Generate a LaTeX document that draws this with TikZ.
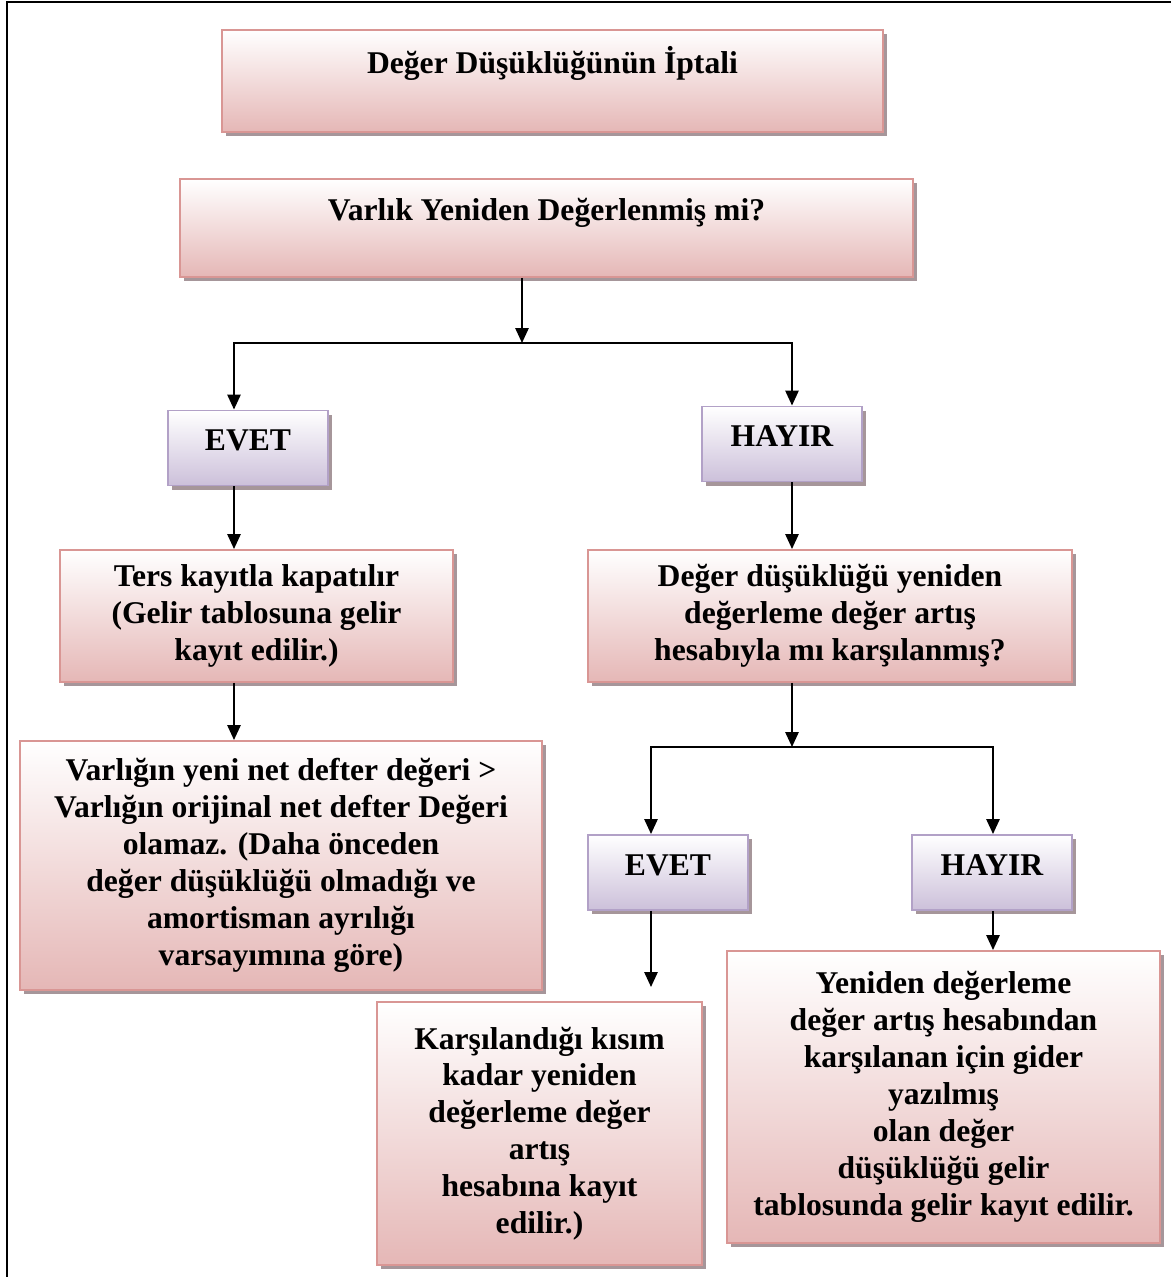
\documentclass[tikz,border=0pt]{standalone}
\usepackage{fontspec}
\setmainfont{Liberation Serif}
\usepackage{xcolor}
\usepackage{tikz}
\usetikzlibrary{arrows.meta,shadows}
\definecolor{inkblack}{RGB}{0,0,0}
\definecolor{pinkline}{RGB}{217,150,148}
\definecolor{pinkfill}{RGB}{229,183,182}
\definecolor{lilacline}{RGB}{178,161,199}
\definecolor{lilacfill}{RGB}{204,192,218}
\definecolor{shadowgray}{RGB}{166,150,154}
\tikzset{
  pbox/.style={draw=pinkline, line width=1.1pt, top color=white, bottom color=pinkfill,
    font=\fontsize{18}{21}\selectfont\bfseries, align=center, inner sep=4pt,
    drop shadow={shadow xshift=0.08cm, shadow yshift=-0.08cm, fill=shadowgray, opacity=1}},
  lbox/.style={draw=lilacline, line width=1.1pt, top color=white, bottom color=lilacfill,
    font=\fontsize{18}{21}\selectfont\bfseries, align=center, inner sep=4pt,
    minimum width=3.2cm, minimum height=1.5cm, text height=13pt, text depth=10pt,
    drop shadow={shadow xshift=0.08cm, shadow yshift=-0.08cm, fill=shadowgray, opacity=1}},
  headbox/.style={pbox, text height=13pt, text depth=22pt},
  arr/.style={-{Triangle[length=8.5pt,width=7.5pt]}, line width=1.2pt, color=inkblack},
  frameline/.style={line width=1.7pt, color=inkblack},
}

\begin{document}
\begin{tikzpicture}

  \useasboundingbox (0,0) rectangle (23.42,-25.54);
  \draw[frameline] (0.14,-25.54) -- (0.14,-0.04) -- (23.42,-0.04);

  \node[headbox, minimum width=13.22cm, minimum height=2.04cm] (title) at (11.05,-1.62) {Değer Düşüklüğünün İptali};
  \node[headbox, minimum width=14.66cm, minimum height=1.96cm] (question) at (10.93,-4.56) {Varlık Yeniden Değerlenmiş mi?};

  \node[lbox] (evet1)  at (4.96,-8.96)  {EVET};
  \node[lbox] (hayir1) at (15.64,-8.88) {HAYIR};

  \node[pbox, minimum width=7.86cm, minimum height=2.64cm] (ters) at (5.13,-12.32)
    {Ters kayıtla kapatılır\\(Gelir tablosuna gelir\\kayıt edilir.)};
  \node[pbox, minimum width=9.68cm, minimum height=2.64cm] (karsilanmis) at (16.6,-12.32)
    {Değer düşüklüğü yeniden\\değerleme değer artış\\hesabıyla mı karşılanmış?};
  \node[pbox, minimum width=10.44cm, minimum height=4.98cm] (netdefter) at (5.62,-17.31)
    {Varlığın yeni net defter değeri >\\Varlığın orijinal net defter Değeri\\olamaz. (Daha önceden\\değer düşüklüğü olmadığı ve\\amortisman ayrılığı\\varsayımına göre)};

  \node[lbox] (evet2)  at (13.36,-17.45) {EVET};
  \node[lbox] (hayir2) at (19.84,-17.45) {HAYIR};

  \node[pbox, minimum width=6.5cm, minimum height=5.26cm] (artiskayit) at (10.79,-22.67)
    {Karşılandığı kısım\\kadar yeniden\\değerleme değer\\artış\\hesabına kayıt\\edilir.)};
  \node[pbox, minimum width=8.66cm, minimum height=5.84cm] (gelirkayit) at (18.87,-21.94)
    {Yeniden değerleme\\değer artış hesabından\\karşılanan için gider\\yazılmış\\olan değer\\düşüklüğü gelir\\tablosunda gelir kayıt edilir.};

  \coordinate (split1) at (10.44,-6.86);
  \coordinate (left1)  at (4.68,-6.86);
  \coordinate (right1) at (15.84,-6.86);
  \coordinate (split2) at (15.84,-14.94);
  \coordinate (left2)  at (13.02,-14.94);
  \coordinate (right2) at (19.86,-14.94);
  \coordinate (loose)  at (13.02,-19.74);

  \draw[arr] (question.south -| split1) -- (split1);
  \draw[arr] (split1) -| (left1 |- evet1.north);
  \draw[arr] (split1) -| (right1 |- hayir1.north);
  \draw[arr] (evet1.south -| left1) -- (ters.north -| left1);
  \draw[arr] (ters.south -| left1) -- (netdefter.north -| left1);
  \draw[arr] (hayir1.south -| right1) -- (karsilanmis.north -| right1);

  \draw[arr] (karsilanmis.south -| split2) -- (split2);
  \draw[arr] (split2) -| (left2 |- evet2.north);
  \draw[arr] (split2) -| (right2 |- hayir2.north);
  \draw[arr] (evet2.south -| left2) -- (loose);
  \draw[arr] (hayir2.south -| right2) -- (gelirkayit.north -| right2);

\end{tikzpicture}
\end{document}
